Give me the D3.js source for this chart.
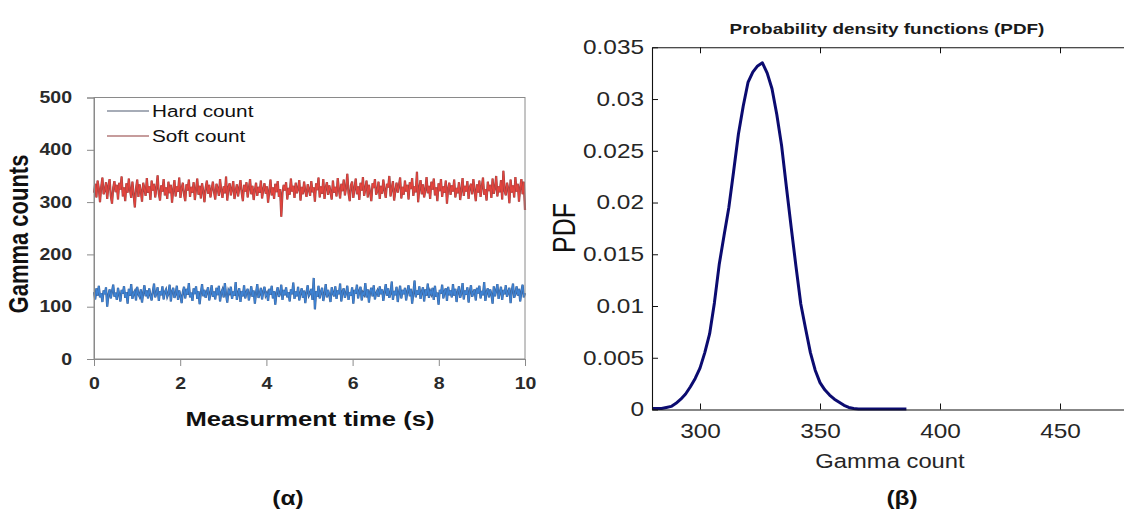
<!DOCTYPE html>
<html>
<head>
<meta charset="utf-8">
<script src="https://cdn.jsdelivr.net/npm/d3@7"></script>
<style>
  html, body { margin: 0; padding: 0; background: #fff; }
  svg { display: block; font-family: "Liberation Sans", Arial, sans-serif; }
  .sxc { transform-box: fill-box; transform-origin: center; transform: scaleX(1.22); }
  .sxr { transform-box: fill-box; transform-origin: right center; transform: scaleX(1.22); }
  .sxl { transform-box: fill-box; transform-origin: left center; transform: scaleX(1.22); }
</style>
</head>
<body>
<svg id="chart" width="1124" height="515"></svg>
<script>
// ---------- Panel (α): time series ----------
const timeDomain = [0, 10];
const countDomain = [0, 500];
const timeTicks = [0, 2, 4, 6, 8, 10];
const countTicks = [0, 100, 200, 300, 400, 500];
const seriesNames = ["Hard count", "Soft count"];

const softCount = [
318,335,309,341,326,300,329,347,315,322,338,306,331,344,312,297,327,340,319,333,
305,337,324,349,311,328,302,336,318,345,323,308,339,315,290,326,343,310,334,321,
301,337,325,312,346,318,330,304,341,322,335,309,327,351,316,303,332,320,344,313,
328,306,339,317,333,299,324,342,311,330,320,347,308,326,337,315,302,334,322,343,
310,329,318,338,304,325,345,314,331,307,336,321,300,327,341,316,333,309,324,339,
319,305,335,326,312,344,322,308,330,317,349,303,328,336,313,325,340,306,321,334,
311,327,342,318,302,333,320,338,309,326,344,315,331,304,323,337,312,329,318,341,
307,324,336,316,330,299,321,343,313,328,306,335,319,340,310,325,272,318,333,322,
338,305,327,314,345,320,331,308,337,317,326,342,303,329,315,339,321,310,334,324,
312,340,319,328,301,336,323,347,309,330,316,344,306,327,338,314,332,320,305,341,
318,329,311,346,324,307,335,321,343,313,328,354,317,302,332,339,308,326,345,315,
330,304,337,322,348,312,325,341,309,333,318,302,336,327,344,314,321,339,306,331,
316,343,323,308,335,328,350,311,326,340,303,322,337,318,332,347,307,329,314,341,
320,333,305,338,325,346,312,330,319,358,300,327,342,315,334,309,323,348,317,331,
306,339,324,345,313,328,302,336,321,344,310,330,318,341,297,326,337,314,332,320,
343,309,327,317,338,304,323,346,312,331,320,340,306,328,335,315,344,322,302,334,
318,341,310,329,347,314,325,303,339,321,333,308,345,316,327,350,311,330,319,342,
305,360,322,313,337,326,298,343,318,332,309,348,320,335,301,328,344,315,339,285
];

const hardCount = [
128,114,135,121,140,118,126,109,131,124,137,100,122,133,116,129,142,119,127,113,
136,123,110,132,125,139,117,128,106,134,121,143,115,126,130,112,138,124,119,133,
108,127,141,120,131,116,135,123,112,129,144,118,126,137,111,130,122,139,114,128,
133,119,125,142,110,129,136,117,124,140,113,131,121,107,128,138,116,134,123,145,
118,127,111,135,124,139,115,130,105,126,143,120,132,117,128,137,112,125,141,119,
129,114,136,122,140,110,127,133,118,145,123,108,131,126,138,115,129,121,147,113,
126,135,109,130,120,141,116,128,134,112,125,139,119,131,106,127,143,117,124,136,
114,129,138,121,126,111,134,123,140,116,130,104,127,137,119,125,142,113,132,122,
137,118,128,110,133,124,146,115,129,120,138,112,126,135,117,131,107,127,141,121,
125,134,113,155,95,130,119,140,116,128,136,111,124,143,118,132,122,109,137,126,
120,139,115,131,124,144,110,129,135,117,126,140,113,128,121,137,106,132,125,142,
116,130,138,112,127,123,145,118,133,108,129,136,120,141,114,126,131,119,139,124,
133,111,128,143,121,135,117,125,148,113,130,122,138,109,127,140,116,132,124,136,
112,129,141,120,134,106,126,150,118,131,123,139,115,128,137,110,133,121,144,117,
130,124,136,113,140,119,127,104,132,125,142,116,129,135,111,138,122,131,118,143,
121,134,109,128,139,117,126,145,114,131,123,137,108,129,141,119,127,133,112,136,
125,140,116,130,122,147,111,128,135,118,133,124,106,139,120,131,143,115,127,138,
113,132,124,141,119,128,136,107,130,144,117,125,139,121,134,110,129,142,118,126
];

// ---------- Panel (β): PDF ----------
const gammaDomain = [280, 480];
const pdfDomain = [0, 0.035];
const gammaTicks = [300, 350, 400, 450];
const pdfTicks = [0, 0.005, 0.01, 0.015, 0.02, 0.025, 0.03, 0.035];
const pdfX = [280,282,284,286,288,290,292,294,296,298,300,302,304,306,308,310,312,314,316,318,
              320,322,324,326,328,330,332,334,336,338,340,342,344,346,348,350,352,354,356,358,
              360,362,364,366,368,370,372,374,376,378,380,382,384,386];
const pdfY = [0.0001,0.0001,0.0001,0.0002,0.0003,0.0006,0.0010,0.0015,0.0022,0.0030,
              0.0040,0.0055,0.0073,0.0103,0.0140,0.0168,0.0195,0.0230,0.0266,0.0293,
              0.0316,0.0326,0.0332,0.0335,0.0325,0.0310,0.0285,0.0255,0.0215,0.0176,
              0.0138,0.0102,0.0078,0.0055,0.0038,0.0026,0.0019,0.0014,0.0010,0.0007,
              0.0004,0.0002,0.0001,0.00005,0.00005,0.00005,0.00005,0.00005,0.00005,0.00005,
              0.00005,0.00005,0.00005,0.00005];

const svg = d3.select("#chart");

// ======== Panel α ========
(function () {
  const L = 94, R = 525, T = 97.5, B = 359;
  const x = d3.scaleLinear().domain(timeDomain).range([L, R]);
  const y = d3.scaleLinear().domain(countDomain).range([B, T]);
  const g = svg.append("g");
  const axisColor = "#8a8a8a";
  const textColor = "#2a2a2a";

  // data lines (darker underlay + bright top stroke)
  const n = softCount.length;
  const tAt = i => timeDomain[0] + (timeDomain[1] - timeDomain[0]) * i / (n - 1);
  const line = d3.line().x((d, i) => x(tAt(i))).y(d => y(d));
  const styles = [
    { data: softCount, under: "#8f4545", top: "#e2433d" },
    { data: hardCount, under: "#3c5f92", top: "#3e82d2" }
  ];
  styles.forEach(s => {
    g.append("path").datum(s.data).attr("d", line)
      .attr("fill", "none").attr("stroke", s.under).attr("stroke-width", 2.2);
    g.append("path").datum(s.data).attr("d", line)
      .attr("fill", "none").attr("stroke", s.top).attr("stroke-width", 1.3);
  });

  // frame
  g.append("rect").attr("x", L).attr("y", T).attr("width", R - L).attr("height", B - T)
    .attr("fill", "none").attr("stroke", axisColor).attr("stroke-width", 1);

  // y axis
  const ya = g.append("g").attr("transform", `translate(${L},0)`)
    .call(d3.axisLeft(y).tickValues(countTicks).tickSize(7).tickPadding(15).tickFormat(d3.format("d")));
  ya.select(".domain").attr("stroke", axisColor);
  ya.selectAll(".tick line").attr("stroke", axisColor);
  ya.selectAll(".tick text").attr("class", "sxr")
    .attr("fill", textColor).style("font-size", "16px").style("font-weight", "bold")
    .style("font-family", "'Liberation Sans', Arial, sans-serif");

  // x axis
  const xa = g.append("g").attr("transform", `translate(0,${B})`)
    .call(d3.axisBottom(x).tickValues(timeTicks).tickSize(7).tickPadding(12).tickFormat(d3.format("d")));
  xa.select(".domain").attr("stroke", axisColor);
  xa.selectAll(".tick line").attr("stroke", axisColor);
  xa.selectAll(".tick text").attr("class", "sxc")
    .attr("fill", textColor).style("font-size", "16px").style("font-weight", "bold")
    .style("font-family", "'Liberation Sans', Arial, sans-serif");

  // axis titles
  g.append("text").attr("transform", "translate(28,234) rotate(-90) scale(1,1.22)")
    .attr("text-anchor", "middle").attr("fill", "#111")
    .style("font-size", "22px").style("font-weight", "bold").text("Gamma counts");
  g.append("text").attr("class", "sxc").attr("x", 310).attr("y", 426)
    .attr("text-anchor", "middle").attr("fill", "#111")
    .style("font-size", "21px").style("font-weight", "bold").text("Measurment time (s)");
  g.append("text").attr("class", "sxc").attr("x", 288).attr("y", 505)
    .attr("text-anchor", "middle").attr("fill", "#111")
    .style("font-size", "20px").style("font-weight", "bold").text("(α)");

  // legend
  const legColors = ["#4f5a70", "#8e3a3a"];
  seriesNames.forEach((name, i) => {
    const ly = 111 + i * 25;
    g.append("line").attr("x1", 107).attr("x2", 149).attr("y1", ly).attr("y2", ly)
      .attr("stroke", legColors[i]).attr("stroke-width", 1.2);
    g.append("text").attr("class", "sxl").attr("x", 152).attr("y", ly + 6)
      .attr("fill", "#111").style("font-size", "17px").text(name);
  });
})();

// ======== Panel β ========
(function () {
  const L = 652, R = 1132, T = 47.3, B = 409.5;
  const x = d3.scaleLinear().domain(gammaDomain).range([L, R]);
  const y = d3.scaleLinear().domain(pdfDomain).range([B, T]);
  const g = svg.append("g");
  const textColor = "#262626";

  // curve
  const pts = pdfX.map((v, i) => [v, pdfY[i]]);
  g.append("path").datum(pts)
    .attr("d", d3.line().x(d => x(d[0])).y(d => y(d[1])))
    .attr("fill", "none").attr("stroke", "#0b0b70").attr("stroke-width", 3)
    .attr("stroke-linejoin", "round");

  // axes: bottom, top, left, right (inside ticks)
  const fmtY = d => d === 0 ? "0" : String(+d.toFixed(3));
  const xb = g.append("g").attr("transform", `translate(0,${B})`)
    .call(d3.axisBottom(x).tickValues(gammaTicks).tickSizeInner(-6).tickSizeOuter(0).tickPadding(14));
  const xt = g.append("g").attr("transform", `translate(0,${T})`)
    .call(d3.axisTop(x).tickValues(gammaTicks).tickSizeInner(-6).tickSizeOuter(0).tickFormat(""));
  const yl = g.append("g").attr("transform", `translate(${L},0)`)
    .call(d3.axisLeft(y).tickValues(pdfTicks).tickSizeInner(-6).tickSizeOuter(0).tickPadding(8).tickFormat(fmtY));
  const yr = g.append("g").attr("transform", `translate(${R},0)`)
    .call(d3.axisRight(y).tickValues(pdfTicks).tickSizeInner(-6).tickSizeOuter(0).tickFormat(""));
  [xb, xt, yl, yr].forEach(a => {
    a.select(".domain").attr("stroke", "#111").attr("stroke-width", 1.1);
    a.selectAll(".tick line").attr("stroke", "#111");
  });
  xb.selectAll(".tick text").attr("class", "sxc").attr("fill", textColor)
    .style("font-size", "20px").style("font-family", "'Liberation Sans', Arial, sans-serif");
  yl.selectAll(".tick text").attr("class", "sxr").attr("fill", textColor)
    .style("font-size", "20px").style("font-family", "'Liberation Sans', Arial, sans-serif");

  // labels
  g.append("text").attr("class", "sxc").attr("x", 887).attr("y", 34)
    .attr("text-anchor", "middle").attr("fill", "#1a1a1a")
    .style("font-size", "15.5px").style("font-weight", "bold")
    .text("Probability density functions (PDF)");
  g.append("text").attr("transform", "translate(575,228) rotate(-90) scale(1,1.22)")
    .attr("text-anchor", "middle").attr("fill", "#111")
    .style("font-size", "25px").text("PDF");
  g.append("text").attr("class", "sxc").attr("x", 890).attr("y", 468)
    .attr("text-anchor", "middle").attr("fill", textColor)
    .style("font-size", "19.5px").text("Gamma count");
  g.append("text").attr("class", "sxc").attr("x", 902).attr("y", 505)
    .attr("text-anchor", "middle").attr("fill", "#111")
    .style("font-size", "20px").style("font-weight", "bold").text("(β)");
})();
</script>
</body>
</html>
